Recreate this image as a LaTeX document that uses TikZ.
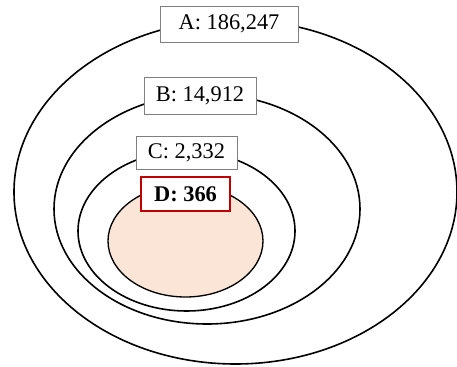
\documentclass[tikz,border=0pt]{standalone}
\usepackage{fontspec}
\setmainfont{Liberation Serif}
\usepackage{xcolor}
\usepackage{tikz}
\usetikzlibrary{positioning}
\definecolor{Peach}{HTML}{FBE5D6}
\definecolor{DeepRed}{HTML}{C00000}
\definecolor{BoxGray}{HTML}{7F7F7F}

\begin{document}
\begin{tikzpicture}[x=0.75pt,y=-0.75pt]
  \path[use as bounding box] (0,0) rectangle (457,367);

  \tikzset{
    setRing/.style={
      draw=black,
      line width=1.2pt
    },
    setCore/.style={
      setRing,
      fill=Peach,
      line width=1pt
    },
    setCount/.style={
      draw=BoxGray,
      fill=white,
      line width=.7pt,
      inner sep=0pt,
      align=center,
      font=\fontsize{16.8}{19}\selectfont,
      text=black
    },
    setCountKey/.style={
      setCount,
      draw=DeepRed,
      line width=1.6pt,
      font=\fontsize{16.8}{19}\selectfont\bfseries
    }
  }

  % nested sets, outermost first
  \draw[setRing] (235.5,192) ellipse[x radius=221.5, y radius=172];
  \draw[setRing] (207,209) ellipse[x radius=153, y radius=115];
  \draw[setRing] (186.5,231) ellipse[x radius=108.5, y radius=80];
  \draw[setCore] (185.5,241) ellipse[x radius=77.5, y radius=56];

  \node[setCount, minimum width=103.5pt, minimum height=27pt] (countA)
    at (229,24) {A: 186,247};
  \node[setCount, minimum width=84pt, minimum height=27.75pt] (countB)
    at (200,95.5) {B: 14,912};
  \node[setCount, minimum width=75.75pt, minimum height=24.75pt] (countC)
    at (186.5,152.5) {C: 2,332};
  \node[setCountKey, minimum width=66.75pt, minimum height=25.5pt] (countD)
    at (185.5,194) {D: 366};
\end{tikzpicture}
\end{document}
